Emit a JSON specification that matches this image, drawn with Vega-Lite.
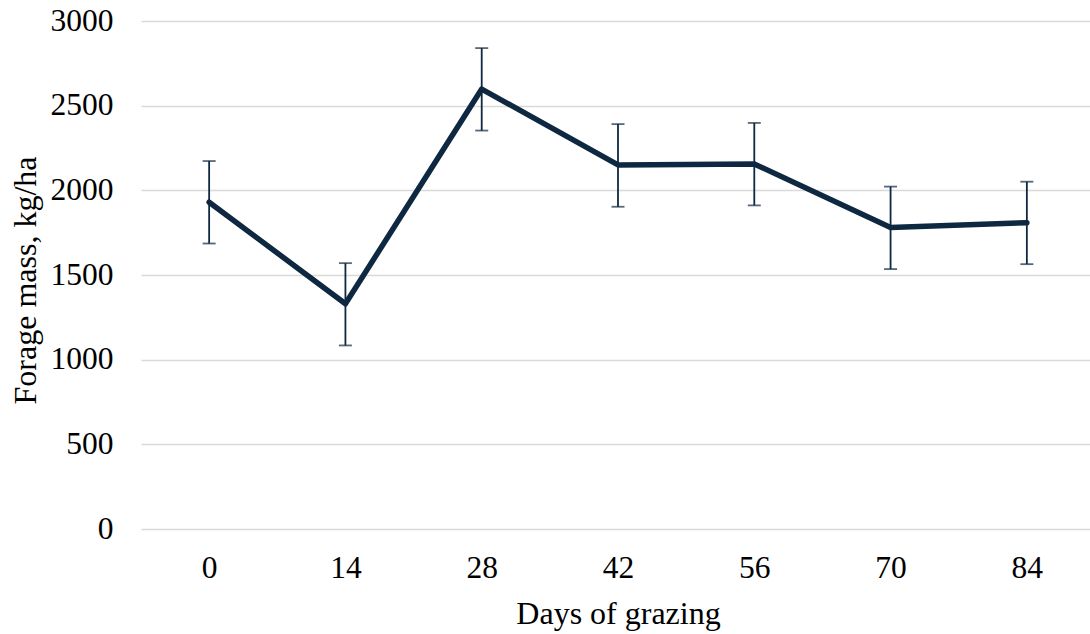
{
  "$schema": "https://vega.github.io/schema/vega-lite/v6.json",
  "autosize": {"type": "none"},
  "padding": {"left": 141, "top": 21, "right": 0, "bottom": 105},
  "width": 954,
  "height": 508,
  "background": "white",
  "config": {
    "view": {"stroke": null},
    "font": "Liberation Serif",
    "axis": {
      "labelFont": "Liberation Serif",
      "titleFont": "Liberation Serif",
      "labelFontSize": 31.5,
      "titleFontSize": 32,
      "labelColor": "#000000",
      "titleColor": "#000000",
      "titleFontWeight": "normal",
      "domain": false,
      "ticks": false,
      "tickSize": 0
    }
  },
  "data": {
    "values": [
      {"day": "0", "mass": 1930, "lo": 1686, "hi": 2173},
      {"day": "14", "mass": 1330, "lo": 1084, "hi": 1570},
      {"day": "28", "mass": 2598, "lo": 2353, "hi": 2840},
      {"day": "42", "mass": 2150, "lo": 1903, "hi": 2391},
      {"day": "56", "mass": 2156, "lo": 1911, "hi": 2398},
      {"day": "70", "mass": 1780, "lo": 1535, "hi": 2022},
      {"day": "84", "mass": 1809, "lo": 1564, "hi": 2051}
    ]
  },
  "encoding": {
    "x": {
      "field": "day",
      "type": "ordinal",
      "sort": null,
      "scale": {"type": "point", "padding": 0.5},
      "axis": {
        "title": "Days of grazing",
        "labelAngle": 0,
        "labelPadding": 48,
        "labelBaseline": "alphabetic",
        "titleBaseline": "alphabetic",
        "titleY": 94,
        "titleX": 477,
        "grid": false
      }
    }
  },
  "layer": [
    {
      "mark": {"type": "line", "color": "#0E2841", "strokeWidth": 5.5, "strokeCap": "round", "strokeJoin": "round"},
      "encoding": {
        "y": {
          "field": "mass",
          "type": "quantitative",
          "scale": {"domain": [0, 3000], "nice": false},
          "axis": {
            "title": "Forage mass, kg/ha",
            "format": "d",
            "values": [0, 500, 1000, 1500, 2000, 2500, 3000],
            "grid": true,
            "gridColor": "#d9d9d9",
            "gridWidth": 1.6,
            "labelPadding": 28,
            "labelAlign": "right",
            "labelBaseline": "middle",
            "titleAngle": -90,
            "titleBaseline": "alphabetic",
            "titleX": -106,
            "titleY": 259
          }
        }
      }
    },
    {
      "mark": {"type": "rule", "color": "#0E2841", "strokeWidth": 1.8},
      "encoding": {
        "y": {"field": "lo", "type": "quantitative"},
        "y2": {"field": "hi"}
      }
    },
    {
      "mark": {"type": "tick", "color": "#0E2841", "thickness": 1.8, "size": 13, "orient": "horizontal"},
      "encoding": {
        "y": {"field": "hi", "type": "quantitative"}
      }
    },
    {
      "mark": {"type": "tick", "color": "#0E2841", "thickness": 1.8, "size": 13, "orient": "horizontal"},
      "encoding": {
        "y": {"field": "lo", "type": "quantitative"}
      }
    }
  ]
}
